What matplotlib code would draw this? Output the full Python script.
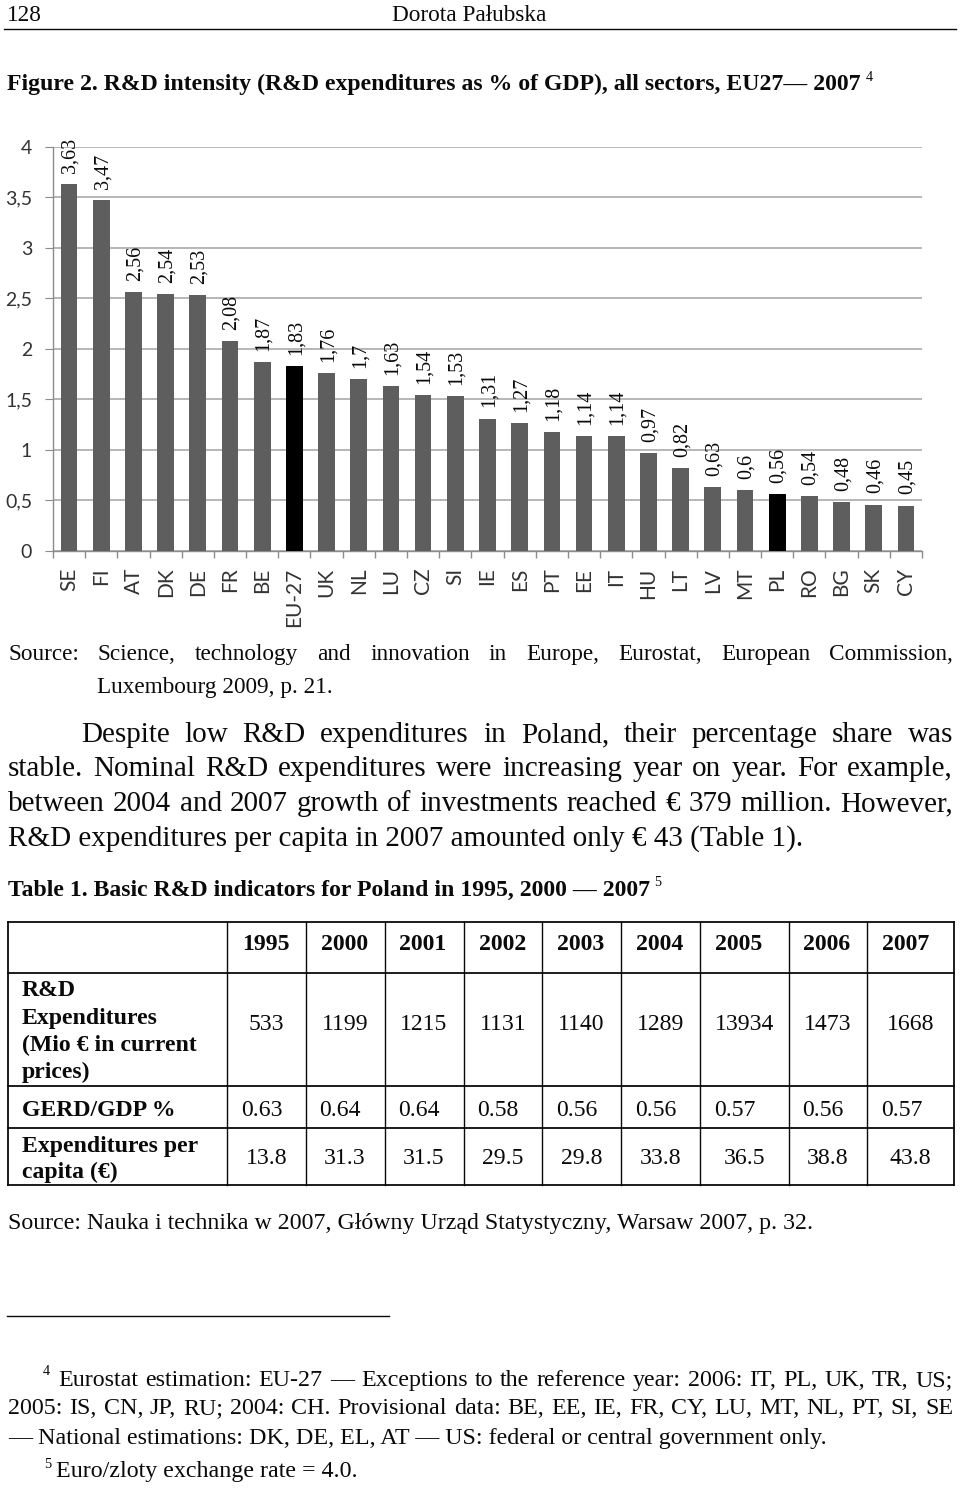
import matplotlib
matplotlib.use('Agg')
import matplotlib.pyplot as plt
import numpy as np

# ---------------- data ----------------
countries = ['SE', 'FI', 'AT', 'DK', 'DE', 'FR', 'BE', 'EU-27', 'UK', 'NL', 'LU', 'CZ', 'SI',
             'IE', 'ES', 'PT', 'EE', 'IT', 'HU', 'LT', 'LV', 'MT', 'PL', 'RO', 'BG', 'SK', 'CY']
intensity = [3.63, 3.47, 2.56, 2.54, 2.53, 2.08, 1.87, 1.83, 1.76, 1.70, 1.63, 1.54, 1.53,
             1.31, 1.27, 1.18, 1.14, 1.14, 0.97, 0.82, 0.63, 0.60, 0.56, 0.54, 0.48, 0.46, 0.45]
highlight = ['EU-27', 'PL']
y_ticks = [0, 0.5, 1, 1.5, 2, 2.5, 3, 3.5, 4]

years = ['1995', '2000', '2001', '2002', '2003', '2004', '2005', '2006', '2007']
rd_expenditures = ['533', '1199', '1215', '1131', '1140', '1289', '13934', '1473', '1668']
gerd_gdp = ['0.63', '0.64', '0.64', '0.58', '0.56', '0.56', '0.57', '0.56', '0.57']
per_capita = ['13.8', '31.3', '31.5', '29.5', '29.8', '33.8', '36.5', '38.8', '43.8']

# ---------------- page ----------------
W, H = 960, 1489
fig = plt.figure(figsize=(W / 100, H / 100), dpi=100)
fig.patch.set_facecolor('white')
page = fig.add_axes([0, 0, 1, 1])
page.set_xlim(0, W)
page.set_ylim(H, 0)
page.axis('off')
renderer = fig.canvas.get_renderer()

SERIF = 'Liberation Serif'
SANS = 'Lato'
INK = '#0a0a0a'


def txt(x, y, s, size, weight='normal', ha='left', va='baseline'):
    return page.text(x, y, s, fontsize=size, fontweight=weight, ha=ha, va=va,
                     family=SERIF, color=INK)


def width(s, size, weight='normal'):
    t = txt(0, 0, s, size, weight)
    w = t.get_window_extent(renderer).width
    t.remove()
    return w


def fit(s, target, weight='normal'):
    return 16 * target / width(s, 16, weight)


def justify(s, x0, x1, y, size, weight='normal'):
    words = s.split(' ')
    ws = [width(w, size, weight) for w in words]
    gap = (x1 - x0 - sum(ws)) / (len(words) - 1)
    x = x0
    for w, wd in zip(words, ws):
        txt(x, y, w, size, weight)
        x += wd + gap


# header
hs = fit('Dorota Pałubska', 154)
txt(7, 21, '128', hs)
txt(469, 21, 'Dorota Pałubska', hs, ha='center')
page.plot([4, 956], [29, 29], color=INK, lw=1.0)

# title
title = 'Figure 2. R&D intensity (R&D expenditures as % of GDP), all sectors, EU27— 2007'
ts = fit(title, 857, 'bold')
txt(7, 90, title, ts, 'bold')
txt(866, 81, '4', ts * 0.6)

# ---------------- chart ----------------
ax = fig.add_axes([53 / W, 1 - 551 / H, (922 - 53) / W, (551 - 146.7) / H])
x = np.arange(len(countries))
colors = ['#000000' if c in highlight else '#5e5e5e' for c in countries]
ax.bar(x, intensity, width=0.52, color=colors, zorder=3)
ax.set_xlim(-0.5, len(countries) - 0.5)
ax.set_ylim(0, 4)
ax.set_yticks(y_ticks)
ax.set_yticklabels([('%g' % v).replace('.', ',') for v in y_ticks],
                   fontfamily=SANS, fontsize=14, color='#333333')
ax.yaxis.grid(True, color='#a3a3a3', lw=1.1)
ax.set_axisbelow(True)
for sp in ['top', 'right']:
    ax.spines[sp].set_visible(False)
for sp in ['left', 'bottom']:
    ax.spines[sp].set_color('#8c8c8c')
    ax.spines[sp].set_linewidth(1.0)
ax.tick_params(axis='y', length=6, color='#8c8c8c', pad=9)
ax.set_xticks(x)
ax.set_xticklabels(countries, rotation=90, fontfamily=SANS, fontsize=15, color='#333333')
ax.tick_params(axis='x', which='major', length=0, pad=12)
ax.set_xticks(np.arange(-0.5, len(countries)), minor=True)
ax.tick_params(axis='x', which='minor', length=5, color='#8c8c8c', width=1.0)
for i, v in enumerate(intensity):
    ax.annotate(('%g' % v).replace('.', ','), xy=(i, v), xytext=(1, 8),
                textcoords='offset points', rotation=90, ha='center', va='bottom',
                family=SERIF, fontsize=14.5, color=INK)

# ---------------- source + paragraph ----------------
ss = fit('Luxembourg 2009, p. 21.', 236)
justify('Source: Science, technology and innovation in Europe, Eurostat, European Commission,',
        8, 953, 660, ss)
txt(97, 693, 'Luxembourg 2009, p. 21.', ss)

last = 'R&D expenditures per capita in 2007 amounted only € 43 (Table 1).'
bs = fit(last, 797)
justify('Despite low R&D expenditures in Poland, their percentage share was', 81, 953, 742, bs)
justify('stable. Nominal R&D expenditures were increasing year on year. For example,',
        8, 953, 776.5, bs)
justify('between 2004 and 2007 growth of investments reached € 379 million. However,',
        8, 953, 811, bs)
txt(8, 845.5, last, bs)

cap = 'Table 1. Basic R&D indicators for Poland in 1995, 2000 — 2007'
cs = fit(cap, 644, 'bold')
txt(8, 896, cap, cs, 'bold')
txt(654, 886, '5', cs * 0.6)

# ---------------- table ----------------
col_edges = [7.5, 227, 305.5, 384.5, 463.5, 542, 621, 700, 788.5, 867, 954]
row_edges = [922, 973, 1085.5, 1127.5, 1184.5]
for yy in row_edges:
    page.plot([col_edges[0], col_edges[-1]], [yy, yy], color=INK, lw=1.3,
              solid_capstyle='projecting')
for j, xx in enumerate(col_edges):
    lw = 1.3 if j in (0, len(col_edges) - 1) else 1.0
    page.plot([xx, xx], [row_edges[0], row_edges[-1]], color=INK, lw=lw,
              solid_capstyle='projecting')

tsz = fit('Expenditures per', 176, 'bold')
for j, yr in enumerate(years):
    txt(col_edges[j + 1] + 15, 950, yr, tsz, 'bold')
for s, yy in zip(['R&D', 'Expenditures', '(Mio € in current', 'prices)'],
                 [996.5, 1024, 1051.5, 1078]):
    txt(22, yy, s, tsz, 'bold')
txt(22, 1115.5, 'GERD/GDP %', tsz, 'bold')
txt(22, 1152, 'Expenditures per', tsz, 'bold')
txt(22, 1178, 'capita (€)', tsz, 'bold')
for j in range(len(years)):
    cx = (col_edges[j + 1] + col_edges[j + 2]) / 2
    txt(cx, 1030.5, rd_expenditures[j], tsz, ha='center')
    txt(col_edges[j + 1] + 14, 1115.5, gerd_gdp[j], tsz)
    txt(cx, 1164, per_capita[j], tsz, ha='center')

src2 = 'Source: Nauka i technika w 2007, Główny Urząd Statystyczny, Warsaw 2007, p. 32.'
txt(8, 1229, src2, fit(src2, 807))

# ---------------- footnotes ----------------
page.plot([7, 389], [1316, 1316], color=INK, lw=1.0)
fn3 = '— National estimations: DK, DE, EL, AT — US: federal or central government only.'
fs = fit(fn3, 818)
txt(43, 1375, '4', fs * 0.6)
justify('Eurostat estimation: EU-27 — Exceptions to the reference year: 2006: IT, PL, UK, TR, US;',
        58, 953, 1386, fs)
justify('2005: IS, CN, JP, RU; 2004: CH. Provisional data: BE, EE, IE, FR, CY, LU, MT, NL, PT, SI, SE',
        8, 953, 1414, fs)
txt(8, 1444, fn3, fs)
txt(44, 1468, '5', fs * 0.6)
txt(56, 1477, 'Euro/zloty exchange rate = 4.0.', fs)

fig.savefig('out.png', dpi=100, facecolor='white')
